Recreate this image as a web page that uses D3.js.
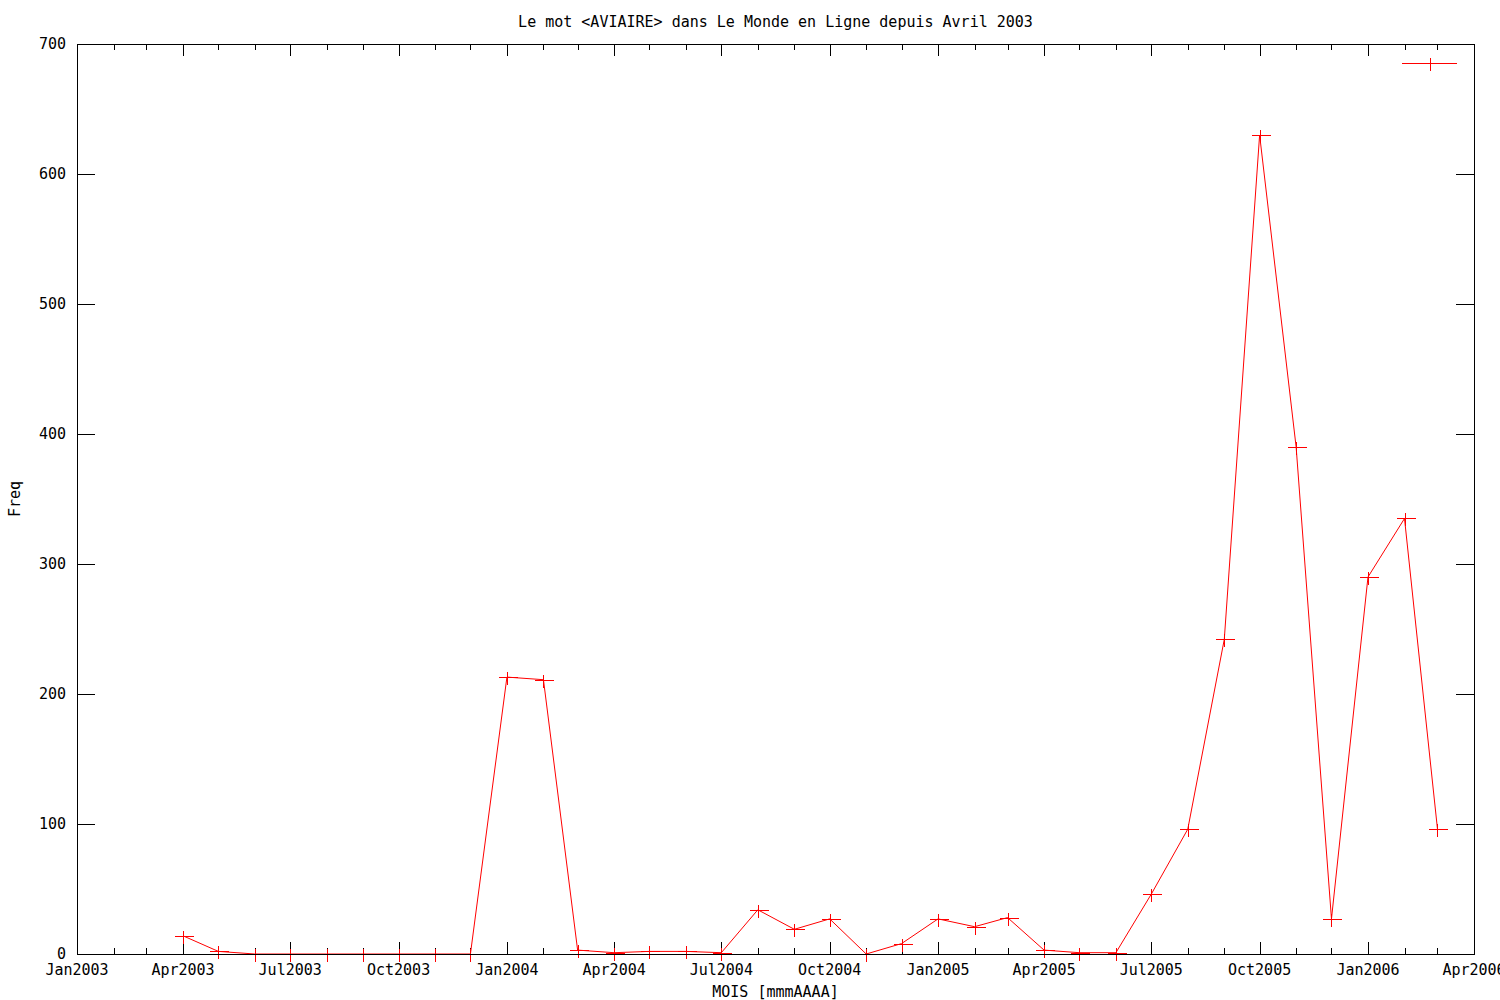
<!DOCTYPE html>
<html>
<head>
<meta charset="utf-8">
<script src="https://cdn.jsdelivr.net/npm/d3@7"></script>
<style>
  html, body { margin: 0; padding: 0; background: #fff; }
  svg text { font-family: "DejaVu Sans Mono", "Liberation Mono", monospace; font-size: 15px; fill: #000; }
</style>
</head>
<body>
<svg id="chart" width="1500" height="1000"></svg>
<script>
// ---- data ----
const months = ["2003-04","2003-05","2003-06","2003-07","2003-08","2003-09","2003-10","2003-11","2003-12",
  "2004-01","2004-02","2004-03","2004-04","2004-05","2004-06","2004-07","2004-08","2004-09","2004-10","2004-11","2004-12",
  "2005-01","2005-02","2005-03","2005-04","2005-05","2005-06","2005-07","2005-08","2005-09","2005-10","2005-11","2005-12",
  "2006-01","2006-02","2006-03"];
const freq = [14, 2, 0, 0, 0, 0, 0, 0, 0,
  213, 211, 3, 1, 2, 2, 1, 34, 19, 27, 0, 8,
  27, 21, 28, 3, 1, 1, 46, 96, 242, 630, 390, 27,
  290, 335, 96];
const yTicks = [0, 100, 200, 300, 400, 500, 600, 700];
const xDomain = ["2003-01", "2006-04"];
const titleText = "Le mot <AVIAIRE> dans Le Monde en Ligne depuis Avril 2003";
const xLabel = "MOIS [mmmAAAA]";
const yLabel = "Freq";

// ---- layout ----
const L = 77, R = 1474, T = 44, B = 954;
const parse = d3.timeParse("%Y-%m");
const svg = d3.select("#chart");
svg.append("rect").attr("width", 1500).attr("height", 1000).attr("fill", "#fff");

const x = d3.scaleTime().domain(xDomain.map(parse)).range([L, R]);
const y = d3.scaleLinear().domain([0, 700]).range([B, T]);

const data = months.map((m, i) => ({ d: parse(m), v: freq[i] }));

// ticks
const g = svg.append("g").attr("shape-rendering", "crispEdges");
const allMonths = d3.timeMonth.range(parse(xDomain[0]), d3.timeMonth.offset(parse(xDomain[1]), 1));
const majorMonths = allMonths.filter(d => d.getMonth() % 3 === 0);
const minorMonths = allMonths.filter(d => d.getMonth() % 3 !== 0);

g.selectAll(".xmaj").data(majorMonths).join("g").each(function(d) {
  const gx = Math.round(x(d)) + 0.5;
  d3.select(this).append("line").attr("x1", gx).attr("x2", gx).attr("y1", B).attr("y2", B - 12).attr("stroke", "#000");
  d3.select(this).append("line").attr("x1", gx).attr("x2", gx).attr("y1", T).attr("y2", T + 12).attr("stroke", "#000");
});
g.selectAll(".xmin").data(minorMonths).join("g").each(function(d) {
  const gx = Math.round(x(d)) + 0.5;
  d3.select(this).append("line").attr("x1", gx).attr("x2", gx).attr("y1", B).attr("y2", B - 6).attr("stroke", "#000");
  d3.select(this).append("line").attr("x1", gx).attr("x2", gx).attr("y1", T).attr("y2", T + 6).attr("stroke", "#000");
});
g.selectAll(".ytk").data(yTicks).join("g").each(function(d) {
  const gy = Math.round(y(d)) + 0.5;
  d3.select(this).append("line").attr("x1", L).attr("x2", L + 18).attr("y1", gy).attr("y2", gy).attr("stroke", "#000");
  d3.select(this).append("line").attr("x1", R).attr("x2", R - 18).attr("y1", gy).attr("y2", gy).attr("stroke", "#000");
});

// tick labels
const fmt = d3.timeFormat("%b%Y");
svg.append("g").selectAll("text").data(majorMonths).join("text")
  .attr("x", d => x(d)).attr("y", 975).attr("text-anchor", "middle").text(d => fmt(d));
svg.append("g").selectAll("text").data(yTicks).join("text")
  .attr("x", 66).attr("y", d => y(d) + 5).attr("text-anchor", "end").text(d => d);

// data line
const line = d3.line().x(d => x(d.d)).y(d => y(d.v));
svg.append("path").datum(data).attr("d", line).attr("fill", "none").attr("stroke", "#ff0000").attr("stroke-width", 1);

// markers
const mk = svg.append("g").attr("shape-rendering", "crispEdges").attr("stroke", "#ff0000");
function plus(sel, cx, cy) {
  const px = Math.round(cx) + 0.5, py = Math.round(cy) + 0.5;
  sel.append("line").attr("x1", px - 9).attr("x2", px + 10).attr("y1", py).attr("y2", py);
  sel.append("line").attr("x1", px).attr("x2", px).attr("y1", py - 6).attr("y2", py + 7);
}
data.forEach(d => plus(mk, x(d.d), y(d.v)));

// key
const key = svg.append("g").attr("shape-rendering", "crispEdges").attr("stroke", "#ff0000");
key.append("line").attr("x1", 1402).attr("x2", 1457).attr("y1", 63.5).attr("y2", 63.5);
plus(key, 1430, 63);

// border
svg.append("rect").attr("x", L + 0.5).attr("y", T + 0.5).attr("width", R - L).attr("height", B - T)
  .attr("fill", "none").attr("stroke", "#000").attr("shape-rendering", "crispEdges");

// titles
svg.append("text").attr("x", (L + R) / 2).attr("y", 27).attr("text-anchor", "middle").text(titleText);
svg.append("text").attr("x", (L + R) / 2).attr("y", 997).attr("text-anchor", "middle").text(xLabel);
svg.append("text").attr("transform", "translate(20,499) rotate(-90)").attr("text-anchor", "middle").text(yLabel);
</script>
</body>
</html>
